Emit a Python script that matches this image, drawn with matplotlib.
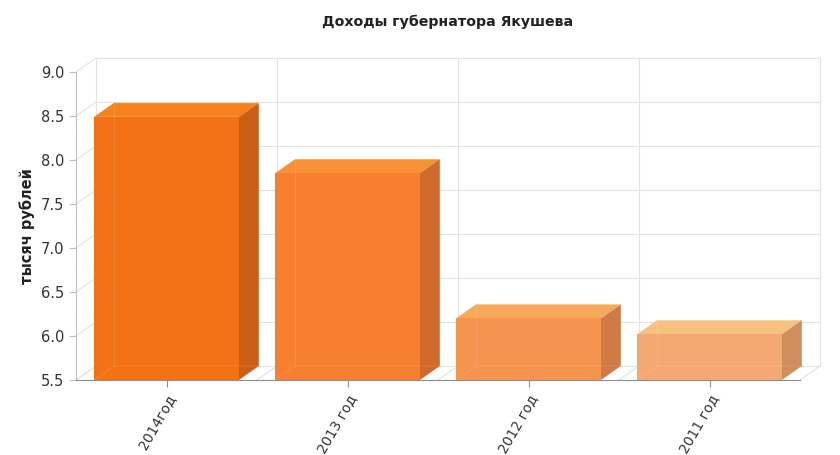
import numpy as np
import matplotlib
matplotlib.use('Agg')
import matplotlib.pyplot as plt
from matplotlib.patches import Polygon, Rectangle

plt.rcParams['font.family'] = ['DejaVu Sans']

title = 'Доходы губернатора Якушева'
ylabel = 'тысяч рублей'
categories = ['2014год', '2013 год', '2012 год', '2011 год']
values = [8.49, 7.85, 6.2, 6.02]
yticks = [5.5, 6.0, 6.5, 7.0, 7.5, 8.0, 8.5, 9.0]

front_cols = ['#f47216', '#f67f30', '#f5944f', '#f6a872']
top_cols = ['#f5821c', '#f79135', '#f6a95a', '#f6c282']
side_cols = ['#cc5f17', '#d06a2a', '#d07b45', '#d08e5e']

ymin, ymax = 5.5, 9.0
x0, x1 = -0.5, 3.5
dx, dy = 0.11, 0.159   # глубина 3D
bw = 0.8
grid_c = '#e3e3e3'

fig = plt.figure(figsize=(8.4, 4.55), dpi=100)
ax = fig.add_axes([76/840, 75/455, 724/840, 308/455])
ax.set_xlim(x0, x1)
ax.set_ylim(ymin, ymax)

# задняя стенка и пол
for y in yticks:
    ax.plot([x0 + dx, x1 + dx], [y + dy, y + dy], color=grid_c, lw=0.8, zorder=1, clip_on=False)
    ax.plot([x0, x0 + dx], [y, y + dy], color=grid_c, lw=0.8, zorder=1, clip_on=False)
for k in range(5):
    xb = x0 + k
    ax.plot([xb + dx, xb + dx], [ymin + dy, ymax + dy], color=grid_c, lw=0.8, zorder=1, clip_on=False)
    ax.plot([xb, xb + dx], [ymin, ymin + dy], color=grid_c, lw=0.8, zorder=1, clip_on=False)

# столбики
for i, v in enumerate(values):
    l, r = i - bw/2, i + bw/2
    ax.add_patch(Polygon([[l, v], [l + dx, v + dy], [r + dx, v + dy], [r, v]],
                         closed=True, facecolor=top_cols[i], edgecolor='none', zorder=3, clip_on=False))
    ax.add_patch(Polygon([[r, ymin], [r + dx, ymin + dy], [r + dx, v + dy], [r, v]],
                         closed=True, facecolor=side_cols[i], edgecolor='none', zorder=3, clip_on=False))
    ax.add_patch(Rectangle((l, ymin), bw, v - ymin, facecolor=front_cols[i], edgecolor='none', zorder=4))
    # слабо видимые задние рёбра
    ax.plot([l + dx, l + dx, r + dx], [ymin + dy, v + dy, v + dy], color='white', alpha=0.1, lw=0.8, zorder=5)
    ax.plot([l, l + dx, r + dx], [ymin, ymin + dy, ymin + dy], color='white', alpha=0.1, lw=0.8, zorder=5)

for s in ['top', 'right']:
    ax.spines[s].set_visible(False)
ax.spines['left'].set_color('#c0c0c0')
ax.spines['bottom'].set_color('#8c8c8c')
ax.spines['bottom'].set_zorder(6)

ax.set_yticks(yticks)
ax.set_yticklabels([f'{t:.1f}' for t in yticks])
ax.set_xticks(range(len(categories)))
ax.set_xticklabels(categories, rotation=60, ha='right', va='top', rotation_mode='anchor')
ax.tick_params(axis='y', colors='#c0c0c0', labelcolor='#333333', labelsize=10.5, length=5, width=0.8)
ax.tick_params(axis='x', colors='#8c8c8c', labelcolor='#333333', labelsize=10, length=5, width=0.8)

ax.set_ylabel(ylabel, fontsize=10.5, fontweight='bold', color='#222222', labelpad=4)
fig.text(448/840, 1 - 22/455, title, ha='center', va='center', fontsize=10.2, fontweight='bold', color='#222222')

fig.savefig('out.png', dpi=100)
